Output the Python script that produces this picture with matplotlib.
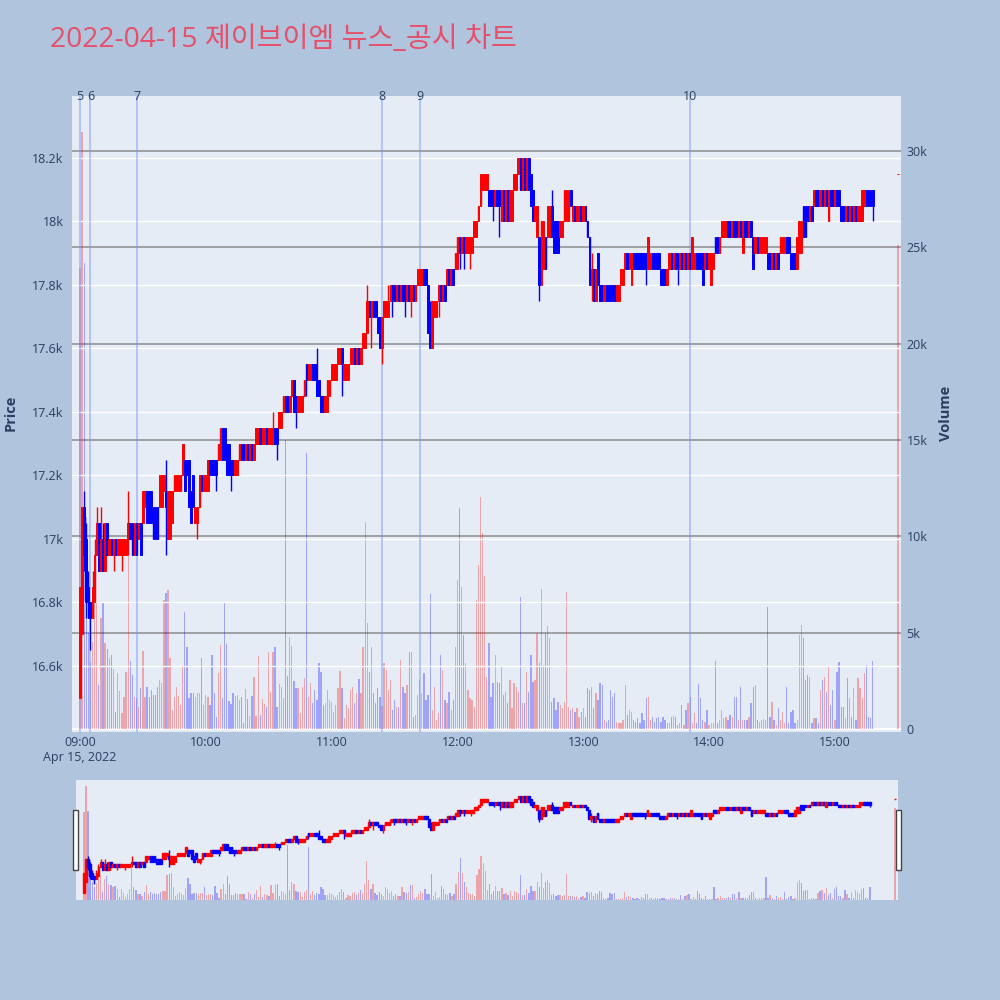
import numpy as np
import pandas as pd
import matplotlib
matplotlib.use("Agg")
import matplotlib.pyplot as plt
from matplotlib.patches import Rectangle
from matplotlib.ticker import FuncFormatter

plt.rcParams["font.family"] = ["Open Sans", "Noto Sans CJK KR", "DejaVu Sans"]

# one-minute candles 09:00-15:18 plus the 15:30 closing auction
times = list(pd.date_range("2022-04-15 09:00", periods=379, freq="min")) + [pd.Timestamp("2022-04-15 15:30")]

open_ = [
    16500, 16700, 17100, 17000, 16850, 16800, 16750, 16800, 16950, 17050,
    16900, 17000, 16900, 17050, 16950, 17000, 16950, 17000, 16950, 16950,
    16950, 16950, 16950, 17000, 17050, 17050, 16950, 17050, 17000, 17050,
    17050, 17100, 17150, 17150, 17150, 17100, 17100, 17100, 17100, 17100,
    17150, 17150, 17000, 17000, 17050, 17150, 17150, 17150, 17150, 17200,
    17250, 17250, 17250, 17150, 17200, 17050, 17050, 17100, 17200, 17150,
    17150, 17150, 17250, 17250, 17250, 17250, 17250, 17250, 17350, 17350,
    17300, 17300, 17250, 17250, 17200, 17200, 17250, 17300, 17300, 17250,
    17300, 17250, 17300, 17250, 17300, 17300, 17350, 17300, 17300, 17350,
    17300, 17300, 17300, 17350, 17350, 17350, 17350, 17400, 17450, 17450,
    17400, 17450, 17500, 17450, 17400, 17400, 17400, 17450, 17550, 17500,
    17500, 17550, 17550, 17500, 17500, 17450, 17450, 17400, 17400, 17450,
    17500, 17500, 17500, 17550, 17550, 17600, 17500, 17500, 17500, 17550,
    17550, 17600, 17550, 17600, 17550, 17600, 17600, 17650, 17750, 17700,
    17750, 17750, 17700, 17700, 17600, 17700, 17700, 17700, 17750, 17800,
    17800, 17750, 17800, 17750, 17800, 17800, 17750, 17800, 17750, 17800,
    17750, 17800, 17800, 17800, 17850, 17850, 17800, 17700, 17600, 17700,
    17700, 17750, 17800, 17750, 17800, 17800, 17850, 17800, 17850, 17850,
    17850, 17950, 17900, 17950, 17900, 17900, 17900, 17900, 17950, 17950,
    18000, 18050, 18100, 18100, 18100, 18100, 18100, 18100, 18050, 18100,
    18100, 18000, 18100, 18000, 18100, 18000, 18000, 18100, 18100, 18150,
    18200, 18100, 18200, 18100, 18200, 18150, 18100, 18000, 17950, 17950,
    17800, 17850, 17950, 17950, 17950, 18050, 18000, 18000, 18000, 17950,
    17950, 18000, 18000, 18000, 18100, 18000, 18050, 18000, 18000, 18050,
    18000, 18050, 18000, 17950, 17800, 17850, 17750, 17900, 17800, 17800,
    17750, 17800, 17800, 17800, 17800, 17800, 17750, 17750, 17800, 17800,
    17850, 17900, 17850, 17800, 17900, 17900, 17900, 17900, 17900, 17900,
    17900, 17850, 17850, 17900, 17900, 17900, 17900, 17850, 17850, 17850,
    17800, 17850, 17900, 17850, 17900, 17900, 17850, 17900, 17850, 17900,
    17850, 17900, 17850, 17850, 17900, 17900, 17900, 17900, 17850, 17900,
    17850, 17800, 17850, 17950, 17950, 17900, 17950, 17950, 17950, 18000,
    18000, 17950, 18000, 18000, 17950, 18000, 17900, 18000, 18000, 17950,
    18000, 17950, 17900, 17950, 17900, 17900, 17900, 17900, 17900, 17900,
    17850, 17900, 17850, 17900, 17900, 17900, 17900, 17950, 17950, 17900,
    17900, 17900, 17850, 17900, 17900, 18050, 18050, 18050, 18000, 18050,
    18050, 18100, 18100, 18050, 18100, 18050, 18100, 18000, 18100, 18100,
    18050, 18100, 18100, 18050, 18050, 18000, 18050, 18000, 18050, 18000,
    18050, 18000, 18000, 18000, 18050, 18100, 18100, 18100, 18100, 18150,
]

close = [
    16850, 17100, 16950, 16800, 16750, 16750, 16850, 16950, 17050, 16900,
    17000, 16900, 17050, 16950, 17000, 16950, 17000, 16950, 17000, 17000,
    17000, 17000, 17000, 17050, 17000, 16950, 17050, 16950, 17050, 16950,
    17150, 17150, 17050, 17050, 17050, 17000, 17000, 17000, 17200, 17200,
    17200, 17100, 17150, 17150, 17150, 17200, 17200, 17200, 17200, 17300,
    17150, 17200, 17100, 17050, 17100, 17100, 17100, 17200, 17150, 17200,
    17200, 17250, 17200, 17200, 17200, 17200, 17300, 17350, 17250, 17250,
    17200, 17200, 17200, 17200, 17250, 17250, 17300, 17250, 17250, 17300,
    17250, 17300, 17250, 17300, 17350, 17350, 17300, 17350, 17350, 17300,
    17350, 17350, 17350, 17300, 17300, 17400, 17400, 17450, 17400, 17400,
    17450, 17500, 17400, 17400, 17450, 17450, 17450, 17500, 17500, 17550,
    17550, 17500, 17500, 17450, 17450, 17400, 17400, 17450, 17500, 17500,
    17550, 17550, 17550, 17600, 17600, 17550, 17550, 17550, 17550, 17600,
    17600, 17550, 17600, 17550, 17600, 17650, 17650, 17750, 17700, 17750,
    17700, 17700, 17650, 17600, 17700, 17750, 17750, 17750, 17800, 17750,
    17750, 17800, 17750, 17800, 17750, 17750, 17800, 17750, 17800, 17750,
    17800, 17850, 17850, 17850, 17800, 17800, 17650, 17600, 17750, 17750,
    17750, 17800, 17750, 17800, 17750, 17850, 17800, 17850, 17800, 17900,
    17950, 17900, 17950, 17900, 17950, 17950, 17950, 17950, 18000, 18000,
    18050, 18150, 18150, 18150, 18150, 18050, 18050, 18050, 18100, 18050,
    18050, 18100, 18000, 18100, 18000, 18100, 18100, 18150, 18150, 18200,
    18100, 18200, 18100, 18200, 18100, 18050, 18000, 18050, 18050, 17800,
    18000, 18000, 17850, 18050, 18050, 17950, 17900, 17900, 17900, 18000,
    18000, 18100, 18100, 18100, 18050, 18050, 18000, 18050, 18050, 18000,
    18050, 18000, 17950, 17800, 17850, 17750, 17850, 17800, 17750, 17750,
    17800, 17750, 17750, 17750, 17750, 17750, 17800, 17800, 17850, 17850,
    17900, 17850, 17900, 17900, 17850, 17850, 17850, 17850, 17850, 17850,
    17850, 17950, 17900, 17850, 17850, 17850, 17850, 17800, 17800, 17800,
    17850, 17900, 17850, 17900, 17850, 17850, 17900, 17850, 17900, 17850,
    17900, 17850, 17950, 17900, 17850, 17850, 17850, 17800, 17900, 17850,
    17900, 17900, 17900, 17900, 17900, 17950, 18000, 18000, 18000, 17950,
    17950, 18000, 17950, 17950, 18000, 17950, 18000, 17950, 17950, 18000,
    17950, 17850, 17950, 17900, 17950, 17950, 17950, 17950, 17850, 17850,
    17900, 17850, 17900, 17850, 17950, 17950, 17950, 17900, 17900, 17850,
    17850, 17850, 17950, 18000, 18000, 17950, 17950, 18000, 18050, 18000,
    18100, 18050, 18050, 18100, 18050, 18100, 18050, 18100, 18050, 18050,
    18100, 18050, 18050, 18000, 18000, 18050, 18000, 18050, 18000, 18050,
    18000, 18050, 18050, 18100, 18100, 18050, 18050, 18050, 18050, 18150,
]

high = [
    16850, 17100, 17150, 17050, 16900, 16800, 16900, 17000, 17100, 17050,
    17100, 17050, 17050, 17050, 17000, 17000, 17000, 17000, 17000, 17000,
    17000, 17000, 17000, 17150, 17050, 17050, 17050, 17050, 17050, 17050,
    17150, 17150, 17150, 17150, 17150, 17100, 17100, 17100, 17200, 17200,
    17200, 17250, 17150, 17150, 17150, 17200, 17200, 17200, 17200, 17300,
    17250, 17250, 17250, 17150, 17200, 17100, 17100, 17200, 17200, 17200,
    17200, 17250, 17250, 17250, 17250, 17250, 17300, 17350, 17350, 17350,
    17300, 17300, 17250, 17250, 17250, 17250, 17300, 17300, 17300, 17300,
    17300, 17300, 17300, 17300, 17350, 17350, 17350, 17350, 17350, 17350,
    17350, 17350, 17400, 17350, 17350, 17400, 17400, 17450, 17450, 17450,
    17450, 17500, 17500, 17450, 17450, 17450, 17450, 17500, 17550, 17550,
    17550, 17550, 17550, 17600, 17500, 17450, 17450, 17450, 17500, 17500,
    17550, 17550, 17550, 17600, 17600, 17600, 17550, 17550, 17550, 17600,
    17600, 17600, 17600, 17600, 17600, 17650, 17650, 17800, 17750, 17750,
    17750, 17750, 17700, 17700, 17700, 17750, 17750, 17800, 17800, 17800,
    17800, 17800, 17800, 17800, 17800, 17800, 17800, 17800, 17800, 17800,
    17800, 17850, 17850, 17850, 17850, 17850, 17800, 17750, 17750, 17750,
    17750, 17800, 17800, 17800, 17800, 17850, 17850, 17850, 17850, 17900,
    17950, 17950, 17950, 17950, 17950, 17950, 17950, 17950, 18000, 18000,
    18050, 18150, 18150, 18150, 18150, 18100, 18100, 18100, 18100, 18100,
    18100, 18100, 18100, 18100, 18100, 18100, 18100, 18150, 18150, 18200,
    18200, 18200, 18200, 18200, 18200, 18150, 18100, 18050, 18050, 17950,
    18000, 18000, 17950, 18050, 18050, 18100, 18000, 18000, 18000, 18000,
    18000, 18100, 18100, 18100, 18100, 18050, 18050, 18050, 18050, 18050,
    18050, 18050, 18000, 17950, 17900, 17850, 17850, 17900, 17800, 17800,
    17800, 17800, 17800, 17800, 17800, 17800, 17800, 17800, 17850, 17850,
    17900, 17900, 17900, 17900, 17900, 17900, 17900, 17900, 17900, 17900,
    17900, 17950, 17900, 17900, 17900, 17900, 17900, 17850, 17850, 17850,
    17850, 17900, 17900, 17900, 17900, 17900, 17900, 17900, 17900, 17900,
    17900, 17900, 17950, 17900, 17900, 17900, 17900, 17900, 17900, 17900,
    17900, 17900, 17900, 17950, 17950, 17950, 18000, 18000, 18000, 18000,
    18000, 18000, 18000, 18000, 18000, 18000, 18000, 18000, 18000, 18000,
    18000, 17950, 17950, 17950, 17950, 17950, 17950, 17950, 17900, 17900,
    17900, 17900, 17900, 17900, 17950, 17950, 17950, 17950, 17950, 17900,
    17900, 17900, 17950, 18000, 18000, 18050, 18050, 18050, 18050, 18050,
    18100, 18100, 18100, 18100, 18100, 18100, 18100, 18100, 18100, 18100,
    18100, 18100, 18100, 18050, 18050, 18050, 18050, 18050, 18050, 18050,
    18050, 18050, 18050, 18100, 18100, 18100, 18100, 18100, 18100, 18150,
]

low = [
    16500, 16700, 16900, 16750, 16750, 16650, 16750, 16800, 16950, 16900,
    16900, 16900, 16900, 16950, 16950, 16950, 16900, 16950, 16950, 16950,
    16900, 16950, 16950, 16950, 17000, 16950, 16950, 16950, 17000, 16950,
    17050, 17100, 17050, 17050, 17050, 17000, 17000, 17000, 17100, 17100,
    17150, 16950, 17000, 17000, 17050, 17150, 17150, 17150, 17150, 17200,
    17150, 17200, 17100, 17050, 17100, 17050, 17000, 17100, 17150, 17150,
    17150, 17150, 17200, 17200, 17200, 17150, 17250, 17250, 17250, 17250,
    17200, 17200, 17150, 17200, 17200, 17200, 17250, 17250, 17250, 17250,
    17250, 17250, 17250, 17250, 17300, 17300, 17300, 17300, 17300, 17300,
    17300, 17300, 17300, 17300, 17250, 17350, 17350, 17400, 17400, 17400,
    17400, 17450, 17400, 17350, 17400, 17400, 17400, 17450, 17450, 17500,
    17500, 17500, 17500, 17450, 17450, 17400, 17400, 17400, 17400, 17450,
    17500, 17500, 17500, 17550, 17550, 17450, 17500, 17500, 17500, 17550,
    17550, 17550, 17550, 17550, 17550, 17600, 17600, 17650, 17700, 17600,
    17700, 17700, 17650, 17600, 17550, 17700, 17700, 17700, 17750, 17700,
    17750, 17750, 17750, 17750, 17750, 17700, 17750, 17750, 17700, 17750,
    17750, 17800, 17800, 17800, 17800, 17800, 17650, 17600, 17600, 17700,
    17700, 17700, 17750, 17750, 17750, 17800, 17800, 17800, 17800, 17850,
    17850, 17850, 17900, 17850, 17900, 17900, 17850, 17900, 17950, 17950,
    18000, 18050, 18100, 18100, 18100, 18050, 18050, 18000, 18050, 18050,
    17950, 18000, 18000, 18000, 18000, 18000, 18000, 18100, 18100, 18150,
    18100, 18100, 18100, 18100, 18100, 18050, 18000, 18000, 17950, 17750,
    17800, 17850, 17850, 17950, 17950, 17950, 17900, 17900, 17900, 17950,
    17950, 18000, 18000, 18000, 18050, 18000, 18000, 18000, 18000, 18000,
    18000, 18000, 17950, 17800, 17750, 17750, 17750, 17800, 17750, 17750,
    17750, 17750, 17750, 17750, 17750, 17750, 17750, 17750, 17800, 17800,
    17850, 17850, 17850, 17800, 17850, 17850, 17850, 17850, 17850, 17850,
    17800, 17850, 17850, 17850, 17850, 17850, 17850, 17800, 17800, 17800,
    17800, 17850, 17850, 17850, 17850, 17800, 17850, 17850, 17850, 17850,
    17850, 17850, 17850, 17850, 17850, 17850, 17850, 17800, 17850, 17850,
    17850, 17800, 17850, 17900, 17900, 17900, 17950, 17950, 17950, 17950,
    17950, 17950, 17950, 17950, 17950, 17950, 17900, 17950, 17950, 17950,
    17950, 17850, 17900, 17900, 17900, 17900, 17900, 17900, 17850, 17850,
    17850, 17850, 17850, 17850, 17900, 17900, 17900, 17900, 17900, 17850,
    17850, 17850, 17850, 17900, 17900, 17950, 17950, 18000, 18000, 18000,
    18050, 18050, 18050, 18050, 18050, 18050, 18050, 18000, 18050, 18050,
    18050, 18050, 18050, 18000, 18000, 18000, 18000, 18000, 18000, 18000,
    18000, 18000, 18000, 18000, 18050, 18050, 18050, 18050, 18000, 18150,
]

volume = [
    23900, 31000, 24200, 11000, 5000, 3500, 4500, 6500, 6600, 2300,
    5740, 6600, 4480, 4130, 3670, 3840, 3100, 900, 2890, 1990,
    810, 1680, 2970, 10000, 3540, 2800, 1680, 1590, 1160, 2110,
    4060, 1680, 2200, 1680, 2020, 1760, 1760, 2160, 2540, 2400,
    6700, 7040, 7210, 3670, 980, 1680, 2200, 1710, 1250, 3230,
    6050, 4270, 1590, 1850, 1880, 1680, 1850, 1880, 3670, 1250,
    1760, 1680, 1250, 3840, 1880, 640, 2920, 4360, 1590, 6560,
    4410, 1470, 1300, 1880, 1710, 1760, 1500, 1680, 290, 2060,
    1540, 670, 1710, 2680, 690, 3790, 720, 1540, 1300, 1120,
    4000, 1940, 4010, 4270, 1160, 2330, 2200, 1590, 15000, 2750,
    4790, 4310, 2510, 2110, 2110, 810, 2160, 2630, 14300, 1680,
    2370, 1330, 2020, 1500, 3410, 2970, 1240, 1330, 2020, 1500,
    1420, 900, 1240, 2110, 3020, 2110, 550, 1240, 1070, 2020,
    2200, 1330, 1850, 2600, 1850, 4270, 10720, 5480, 2970, 4270,
    1850, 1330, 2110, 1680, 1200, 3410, 3060, 2020, 2540, 980,
    1500, 1160, 1160, 3580, 2200, 1850, 2300, 4010, 4010, 640,
    720, 1760, 2540, 1850, 2890, 1500, 1760, 6990, 980, 2200,
    470, 810, 3840, 3060, 1500, 1330, 1940, 980, 1500, 4270,
    7730, 11450, 7390, 4880, 3410, 2020, 1590, 1500, 1160, 6690,
    8510, 12050, 10150, 7940, 2710, 4440, 1680, 2370, 3840, 2460,
    2370, 3230, 1760, 1940, 1330, 2540, 1070, 2370, 2200, 1940,
    6870, 1330, 1330, 2970, 1940, 3840, 2460, 2540, 4960, 3410,
    7270, 3320, 4960, 5340, 4700, 1420, 1590, 980, 1420, 1240,
    1070, 1420, 7130, 1160, 980, 1070, 900, 1070, 640, 900,
    1070, 640, 2110, 2020, 2200, 1070, 1850, 1500, 2370, 2280,
    470, 380, 470, 2020, 1680, 1850, 380, 290, 290, 470,
    2280, 720, 980, 900, 470, 380, 550, 290, 810, 470,
    1590, 1680, 470, 640, 380, 550, 640, 380, 640, 470,
    290, 290, 640, 670, 640, 200, 290, 1240, 200, 980,
    1330, 1680, 290, 810, 290, 2330, 1590, 470, 380, 980,
    200, 290, 290, 3540, 290, 470, 980, 550, 640, 470,
    720, 640, 1680, 1680, 470, 2200, 470, 470, 470, 640,
    1330, 2200, 2280, 470, 380, 470, 500, 470, 6310, 640,
    1420, 470, 200, 1070, 470, 900, 290, 2200, 290, 900,
    980, 290, 470, 4880, 5400, 4700, 2540, 2800, 2710, 290,
    550, 550, 290, 2020, 2540, 2710, 1940, 3230, 1240, 2020,
    470, 2970, 3490, 1160, 1160, 550, 2630, 1590, 640, 2110,
    470, 2630, 2110, 1590, 2890, 3320, 640, 550, 3540, 25100,
]

# news / disclosure markers
news_times = ["09:00", "09:05", "09:27", "11:24", "11:42", "13:51"]
news_labels = ["5", "6", "7", "8", "9", "10"]

price_ticks = [16600, 16800, 17000, 17200, 17400, 17600, 17800, 18000, 18200]
volume_ticks = [0, 5000, 10000, 15000, 20000, 25000, 30000]
hour_ticks = ["09:00", "10:00", "11:00", "12:00", "13:00", "14:00", "15:00"]

title = "2022-04-15 제이브이엠 뉴스_공시 차트"

assert len(open_) == len(close) == len(high) == len(low) == len(volume) == len(times)

BG = "#b0c4de"
PLOT_BG = "#e5ecf6"
TXT = "#2a3f5f"
UP, DOWN = "#ff0000", "#0000ff"
UP_V, DOWN_V = (1.0, 0.0, 0.0, 0.3), (0.0, 0.0, 1.0, 0.3)

t0 = pd.Timestamp("2022-04-15 09:00")
x = np.array([(t - t0).total_seconds() / 60 for t in times])
o, c = np.array(open_), np.array(close)
h, l = np.array(high), np.array(low)
v = np.array(volume)
up = c >= o
col = np.where(up, UP, DOWN)
vcol = [UP_V if u else DOWN_V for u in up]


def to_min(s):
    hh, mm = s.split(":")
    return (int(hh) - 9) * 60 + int(mm)


def draw_candles(ax, body_lw, wick_lw):
    ax.vlines(x, l, h, colors=col, linewidth=wick_lw, zorder=3)
    ax.bar(x, np.abs(c - o), width=0.8, bottom=np.minimum(o, c), color=col,
           edgecolor=col, linewidth=body_lw, zorder=3)


def kfmt(val, pos):
    if val == 0:
        return "0"
    s = f"{val / 1000:.1f}".rstrip("0").rstrip(".")
    return s + "k"


XLIM = (-3.8, 391.5)

fig = plt.figure(figsize=(10, 10), dpi=100, facecolor=BG)

# main panel: volume axis underneath, price axis on top
L, R, T, B = 72, 901, 96, 732
ax_v = fig.add_axes([L / 1000, 1 - B / 1000, (R - L) / 1000, (B - T) / 1000])
ax_p = ax_v.twinx()
ax_v.set_facecolor(PLOT_BG)
ax_p.patch.set_visible(False)

ax_v.set_axisbelow(True)
ax_v.bar(x, v, width=0.62, color=vcol, linewidth=0, zorder=1)
ax_v.set_ylim(-156, 32850)
ax_v.set_yticks(volume_ticks)
ax_v.yaxis.set_major_formatter(FuncFormatter(kfmt))
ax_v.grid(axis="y", color="#8c8c8c", linewidth=1.1)
ax_v.axhline(0, color="white", linewidth=1.5, zorder=0.8)
ax_v.yaxis.tick_right()

ax_p.set_axisbelow(True)
draw_candles(ax_p, body_lw=0.7, wick_lw=1.0)
ax_p.set_ylim(16392, 18395)
ax_p.set_yticks(price_ticks)
ax_p.yaxis.set_major_formatter(FuncFormatter(kfmt))
ax_p.grid(axis="y", color="white", linewidth=1.0)
ax_p.yaxis.tick_left()

for t, lab in zip(news_times, news_labels):
    m = to_min(t)
    ax_p.axvline(m, color=(0.45, 0.58, 1.0, 0.55), linewidth=1.2, zorder=2)
    ax_p.text(m, 1.0, lab, transform=ax_p.get_xaxis_transform(), ha="center",
              va="center", fontsize=9, color=TXT)

ax_v.set_xlim(*XLIM)
ax_v.set_xticks([to_min(s) for s in hour_ticks])
ax_v.set_xticklabels(["09:00\nApr 15, 2022"] + hour_ticks[1:])
for a in (ax_v, ax_p):
    a.tick_params(length=0, labelcolor=TXT, labelsize=9)
    for sp in a.spines.values():
        sp.set_visible(False)
ax_p.tick_params(axis="y", pad=6)
ax_v.tick_params(axis="y", pad=4)
ax_v.tick_params(axis="x", pad=3)

fig.text(0.011, 1 - 0.413, "Price", rotation=90, ha="center", va="center",
         fontsize=10.5, fontweight="bold", color=TXT)
fig.text(0.946, 1 - 0.413, "Volume", rotation=90, ha="center", va="center",
         fontsize=10.5, fontweight="bold", color=TXT)
fig.text(0.05, 0.96, title, ha="left", va="center", fontsize=20.3, color="#e5506a")

# range slider
SL, SR, ST, SB = 76, 898, 780, 900
ax_sv = fig.add_axes([SL / 1000, 1 - SB / 1000, (SR - SL) / 1000, (SB - ST) / 1000])
ax_sp = ax_sv.twinx()
ax_sv.set_facecolor(PLOT_BG)
ax_sp.patch.set_visible(False)
ax_sv.bar(x, v, width=0.62, color=vcol, linewidth=0)
ax_sv.set_ylim(0, 32630)
draw_candles(ax_sp, body_lw=1.0, wick_lw=1.0)
ax_sp.set_ylim(16377, 18480)
for a in (ax_sv, ax_sp):
    a.set_xlim(*XLIM)
    a.set_xticks([])
    a.set_yticks([])
    for sp in a.spines.values():
        sp.set_visible(False)

for hx in (72.5, 895.5):
    fig.patches.append(Rectangle((hx / 1000, 1 - 870 / 1000), 5.5 / 1000, 60 / 1000,
                                 transform=fig.transFigure, facecolor="white",
                                 edgecolor="#444444", linewidth=1.0, zorder=5))

fig.savefig("out.png", dpi=100, facecolor=BG)
